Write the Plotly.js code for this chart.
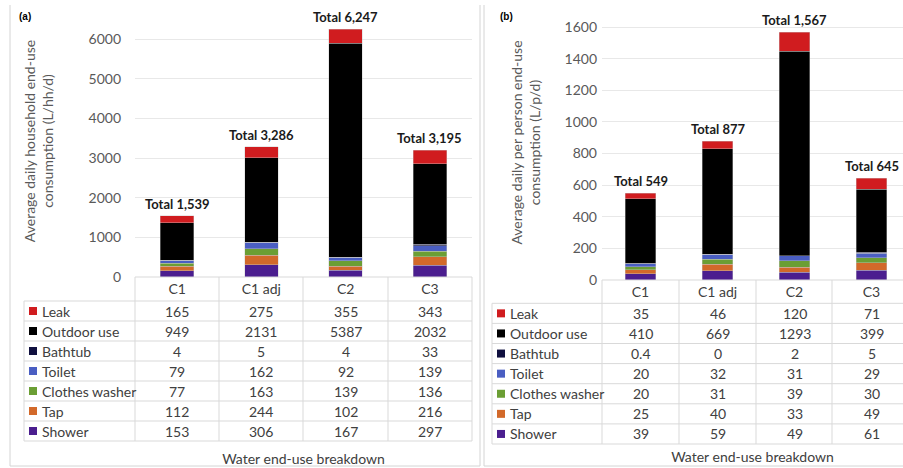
<!DOCTYPE html>
<html>
<head>
<meta charset="utf-8">
<script src="https://cdn.plot.ly/plotly-3.0.1.min.js"></script>
<style>html,body{margin:0;padding:0;background:#fff}#chart{width:903px;height:468px}</style>
</head>
<body>
<div id="chart"></div>
<script>
// ---------- data ----------
const categories = ['C1', 'C1 adj', 'C2', 'C3'];
const seriesNames = ['Leak', 'Outdoor use', 'Bathtub', 'Toilet', 'Clothes washer', 'Tap', 'Shower']; // table order (top to bottom)
const seriesColors = ['#d01c1f', '#000000', '#10103f', '#4a5ec2', '#6b9e34', '#d2692a', '#4b1e8f'];

// (a) household L/hh/d
const leakA = [165, 275, 355, 343];
const outdoorA = [949, 2131, 5387, 2032];
const bathtubA = [4, 5, 4, 33];
const toiletA = [79, 162, 92, 139];
const washerA = [77, 163, 139, 136];
const tapA = [112, 244, 102, 216];
const showerA = [153, 306, 167, 297];
const totalsA = [1539, 3286, 6247, 3195];

// (b) per person L/p/d
const leakB = [35, 46, 120, 71];
const outdoorB = [410, 669, 1293, 399];
const bathtubB = [0.4, 0, 2, 5];
const toiletB = [20, 32, 31, 29];
const washerB = [20, 31, 39, 30];
const tapB = [25, 40, 33, 49];
const showerB = [39, 59, 49, 61];
const totalsB = [549, 877, 1567, 645];

const seriesA = [leakA, outdoorA, bathtubA, toiletA, washerA, tapA, showerA];
const seriesB = [leakB, outdoorB, bathtubB, toiletB, washerB, tapB, showerB];

// ---------- layout helpers ----------
const W = 903, H = 468;
const px = x => x / W;
const py = y => 1 - y / H;
const FONT = 'Lato, "Open Sans", sans-serif';
const TXT = '#404040';
const GRID = '#d9d9d9';

const traces = [];
// stack bottom to top: reverse of table order
for (let k = seriesNames.length - 1; k >= 0; k--) {
  traces.push({type: 'bar', x: categories, y: seriesA[k], name: seriesNames[k], xaxis: 'x', yaxis: 'y',
    marker: {color: seriesColors[k], line: {color: 'rgba(200,200,200,0.8)', width: 0.5}}, showlegend: false, hoverinfo: 'y+name'});
}
for (let k = seriesNames.length - 1; k >= 0; k--) {
  traces.push({type: 'bar', x: categories, y: seriesB[k], name: seriesNames[k], xaxis: 'x2', yaxis: 'y2',
    marker: {color: seriesColors[k], line: {color: 'rgba(200,200,200,0.8)', width: 0.5}}, showlegend: false, hoverinfo: 'y+name'});
}

const shapes = [];
const annotations = [];
const line = (x0, y0, x1, y1, c) => shapes.push({type: 'line', xref: 'paper', yref: 'paper',
  x0: px(x0), y0: py(y0), x1: px(x1), y1: py(y1), line: {color: c || GRID, width: 1}});

// panel borders
line(10, 5, 10, 466, '#d4d4d4');
line(10, 466, 480, 466, '#d4d4d4');
line(480, 5, 480, 466, '#d4d4d4');
line(484, 5, 484, 466, '#d4d4d4');
line(484, 466, 903, 466, '#d4d4d4');

function buildTable(cfg) {
  const {colX, legendLeft, headerTop, rowTop, rowH, series, xref, sqX, txtX} = cfg;
  const right = colX[colX.length - 1];
  line(colX[0], headerTop, right, headerTop);
  for (let r = 0; r <= series.length; r++) {
    const y = rowTop + r * rowH;
    line(legendLeft, y, right, y);
  }
  const bottom = rowTop + series.length * rowH;
  line(legendLeft, rowTop, legendLeft, bottom);
  colX.forEach(x => line(x, headerTop, x, bottom));
  series.forEach((vals, r) => {
    const yc = rowTop + r * rowH + rowH / 2;
    shapes.push({type: 'rect', xref: 'paper', yref: 'paper', x0: px(sqX), x1: px(sqX + 8),
      y0: py(yc - 4), y1: py(yc + 4), fillcolor: seriesColors[r], line: {width: 0}});
    annotations.push({xref: 'paper', yref: 'paper', x: px(txtX), y: py(yc), xanchor: 'left', yanchor: 'middle',
      text: seriesNames[r], showarrow: false, font: {family: FONT, size: 14, color: TXT}});
    vals.forEach((v, c) => {
      annotations.push({xref: xref, yref: 'paper', x: categories[c], y: py(yc), xanchor: 'center', yanchor: 'middle',
        text: String(v), showarrow: false, font: {family: FONT, size: 14, color: TXT}});
    });
  });
}

buildTable({colX: [135, 219, 303, 388, 472], legendLeft: 24, headerTop: 277, rowTop: 301, rowH: 20,
  series: seriesA, xref: 'x', sqX: 29, txtX: 40});
buildTable({colX: [602, 679, 756, 832, 909], legendLeft: 492, headerTop: 280, rowTop: 303.3, rowH: 20.1,
  series: seriesB, xref: 'x2', sqX: 497, txtX: 508});

// totals
totalsA.forEach((t, i) => annotations.push({xref: 'x', yref: 'y', x: categories[i], y: t, yanchor: 'bottom', yshift: 2,
  text: '<b>Total ' + t.toLocaleString('en-US') + '</b>', showarrow: false, font: {family: FONT, size: 13, color: '#1a1a1a'}}));
totalsB.forEach((t, i) => annotations.push({xref: 'x2', yref: 'y2', x: categories[i], y: t, yanchor: 'bottom', yshift: 2,
  text: '<b>Total ' + t.toLocaleString('en-US') + '</b>', showarrow: false, font: {family: FONT, size: 13, color: '#1a1a1a'}}));

// panel letters
annotations.push({xref: 'paper', yref: 'paper', x: px(17), y: py(17), xanchor: 'left', yanchor: 'middle', text: '<b>(a)</b>',
  showarrow: false, font: {family: 'Liberation Sans, Arial', size: 10, color: '#000'}});
annotations.push({xref: 'paper', yref: 'paper', x: px(498), y: py(17), xanchor: 'left', yanchor: 'middle', text: '<b>(b)</b>',
  showarrow: false, font: {family: 'Liberation Sans, Arial', size: 10, color: '#000'}});

const colB = 77;
const layout = {
  width: W, height: H,
  margin: {l: 0, r: 0, t: 0, b: 0},
  paper_bgcolor: '#fff', plot_bgcolor: 'rgba(0,0,0,0)',
  barmode: 'stack', bargap: 0.6,
  font: {family: FONT, color: TXT},
  xaxis: {domain: [px(135), px(472)], anchor: 'y', type: 'category', range: [-0.5, 3.5],
    showgrid: false, zeroline: false, showline: false, ticks: '', ticklabelstandoff: 2,
    tickfont: {family: FONT, size: 14, color: TXT},
    title: {text: 'Water end-use breakdown', standoff: 158, font: {family: FONT, size: 14, color: TXT}}},
  yaxis: {domain: [py(277), py(5)], anchor: 'x', range: [0, 6000 * 272 / 238], dtick: 1000,
    showgrid: true, gridcolor: '#e8e8e8', zeroline: false, showline: false, ticklabelstandoff: 13,
    tickfont: {family: FONT, size: 14, color: '#595959'},
    title: {text: 'Average daily household end-use<br>consumption (L/hh/d)', standoff: 31, font: {family: FONT, size: 14, color: '#595959'}}},
  xaxis2: {domain: [px(602), 1], anchor: 'y2', type: 'category', range: [-0.5, -0.5 + (903 - 602) / colB],
    showgrid: false, zeroline: false, showline: false, ticks: '', ticklabelstandoff: 2,
    tickfont: {family: FONT, size: 14, color: TXT},
    title: {text: 'Water end-use breakdown', standoff: 153, font: {family: FONT, size: 14, color: TXT}}},
  yaxis2: {domain: [py(280), py(5)], anchor: 'x2', range: [0, 1600 * 275 / 253], dtick: 200,
    showgrid: true, gridcolor: '#e8e8e8', zeroline: false, showline: false, ticklabelstandoff: 4,
    tickfont: {family: FONT, size: 14, color: '#595959'},
    title: {text: 'Average daily per person end-use<br>consumption (L/p/d)', standoff: 20, font: {family: FONT, size: 14, color: '#595959'}}},
  shapes: shapes,
  annotations: annotations
};

Plotly.newPlot('chart', traces, layout, {displayModeBar: false, staticPlot: true});
</script>
</body>
</html>
